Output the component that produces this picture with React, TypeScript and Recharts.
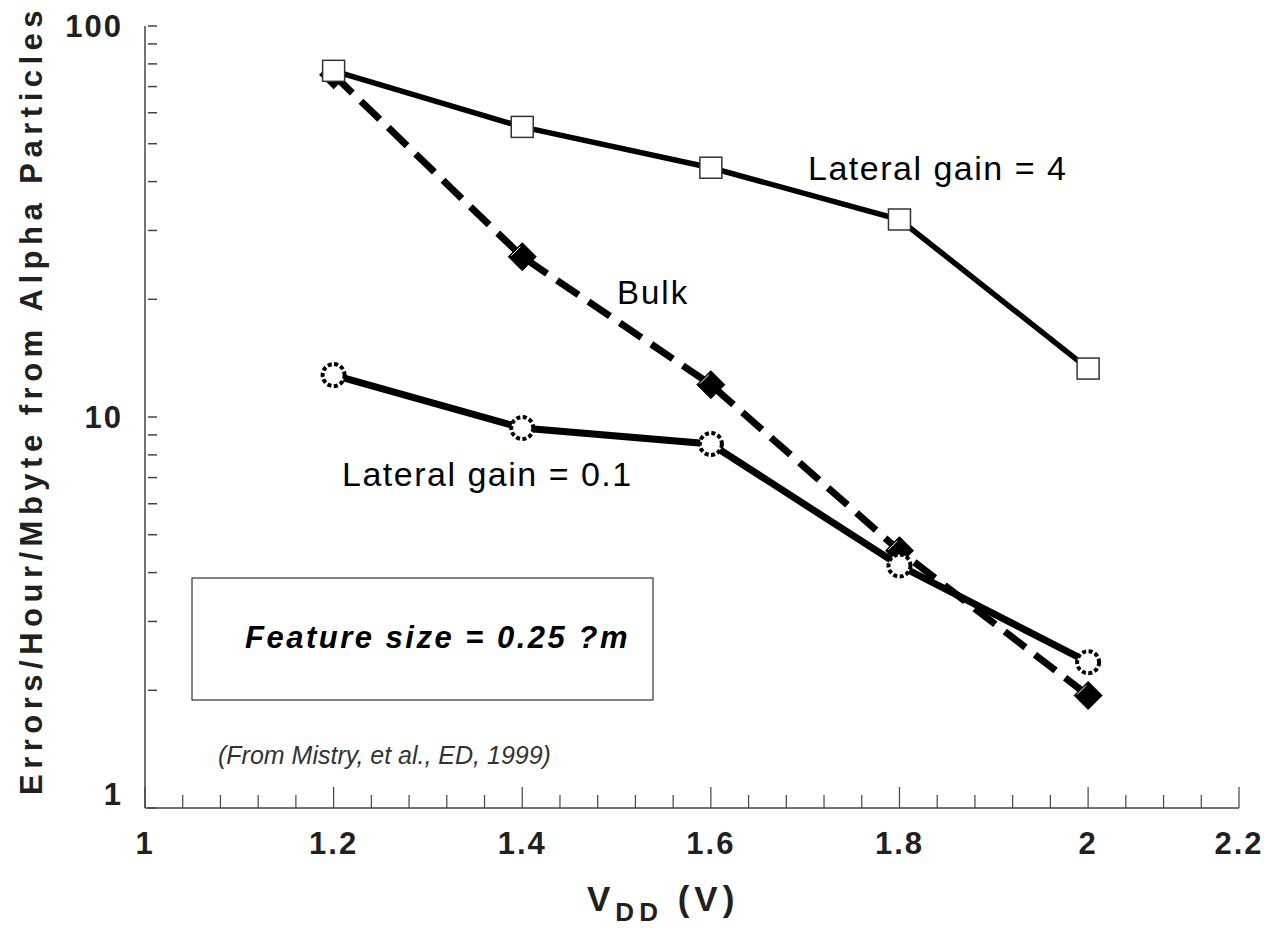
import React from 'react';
import { LineChart, Line, XAxis, YAxis } from 'recharts';

// ---- data ----
const vdd = [1.2, 1.4, 1.6, 1.8, 2.0];
const lateralGain4 = [76.8, 55.2, 43.4, 32.0, 13.3];
const bulk = [75, 25.7, 12.1, 4.55, 1.94];
const lateralGain01 = [12.8, 9.37, 8.53, 4.17, 2.36];

// ---- axes ----
const xDomain = [1, 2.16];
const xMajorTicks = [1, 1.2, 1.4, 1.6, 1.8, 2, 2.16];
const xMajorLabels = ['1', '1.2', '1.4', '1.6', '1.8', '2', '2.2'];
const xMinorTicks = [
  1.04, 1.08, 1.12, 1.16, 1.24, 1.28, 1.32, 1.36, 1.44, 1.48, 1.52, 1.56,
  1.64, 1.68, 1.72, 1.76, 1.84, 1.88, 1.92, 1.96, 2.04, 2.08, 2.12,
];
const yDomain = [1, 100];
const yMajorTicks = [1, 10, 100];
const yMajorLabels = ['1', '10', '100'];
const yMinorTicks = [2, 3, 4, 5, 6, 7, 8, 9, 20, 30, 40, 50, 60, 70, 80, 90];

const data = vdd.map((v, i) => ({
  v,
  g4: lateralGain4[i],
  bulk: bulk[i],
  g01: lateralGain01[i],
}));

const FONT = '"Liberation Sans", Arimo, Arial, Helvetica, sans-serif';
const TEXT = '#231f20';
const AXIS = '#444';

const xTicksAll = [...xMajorTicks, ...xMinorTicks];
const yTicksAll = [...yMajorTicks, ...yMinorTicks];

const tickText = { fontFamily: FONT, fontWeight: 'bold', fontSize: 31, letterSpacing: 2 } as React.CSSProperties;

const BottomTick = (props: any) => {
  const { x, y, payload } = props;
  const idx = xMajorTicks.indexOf(payload.value);
  const major = idx >= 0;
  return (
    <g>
      <line x1={x} x2={x} y1={y} y2={y - (major ? 21 : 13)} stroke={AXIS} strokeWidth={1.2} />
      {major && (
        <text x={x} y={y + 46} textAnchor="middle" style={tickText} fill={TEXT}>
          {xMajorLabels[idx]}
        </text>
      )}
    </g>
  );
};

const TopTick = (props: any) => {
  const { x, y, payload } = props;
  const major = xMajorTicks.indexOf(payload.value) >= 0;
  return <line x1={x} x2={x} y1={y} y2={y + (major ? 21 : 12)} stroke={AXIS} strokeWidth={1.2} />;
};

const LeftTick = (props: any) => {
  const { x, y, payload } = props;
  const idx = yMajorTicks.indexOf(payload.value);
  const major = idx >= 0;
  return (
    <g>
      <line x1={x + 3} x2={x + 12} y1={y} y2={y} stroke={AXIS} strokeWidth={1.5} />
      {major && (
        <text x={x - 22} y={payload.value === 1 ? y - 3 : y + 11} textAnchor="end" style={tickText} fill={TEXT}>
          {yMajorLabels[idx]}
        </text>
      )}
    </g>
  );
};

const RightTick = (props: any) => {
  const { x, y } = props;
  return <line x1={x - 3} x2={x - 12} y1={y} y2={y} stroke={AXIS} strokeWidth={1.5} />;
};

const SquareDot = (props: any) => {
  const { cx, cy } = props;
  if (cx == null || cy == null) return null;
  return <rect x={cx - 11} y={cy - 10.5} width={22} height={21} fill="#fff" stroke="#333" strokeWidth={1.5} />;
};

const DiamondDot = (props: any) => {
  const { cx, cy } = props;
  if (cx == null || cy == null) return null;
  const r = 14;
  return (
    <g>
      <polygon points={`${cx},${cy - r} ${cx + r},${cy} ${cx},${cy + r} ${cx - r},${cy}`} fill="#000" stroke="#000" strokeWidth={1} />
      <polyline points={`${cx - r + 3},${cy - 1} ${cx - 2},${cy - r + 4}`} fill="none" stroke="#fff" strokeWidth={1} />
    </g>
  );
};

const BurstDot = (props: any) => {
  const { cx, cy } = props;
  if (cx == null || cy == null) return null;
  return <circle cx={cx} cy={cy} r={11} fill="#fff" stroke="#000" strokeWidth={4} strokeDasharray="4 2.5" />;
};

export default function App() {
  return (
    <div style={{ position: 'absolute', left: 0, top: 0, width: 1264, height: 929, background: '#fff' }}>
      <LineChart width={1264} height={929} data={data} margin={{ top: 26, right: 25, bottom: 0, left: 0 }}>
        <XAxis
          dataKey="v"
          type="number"
          domain={xDomain}
          allowDataOverflow
          ticks={xTicksAll}
          interval={0}
          tickSize={0}
          tickMargin={0}
          tickLine={false}
          tick={BottomTick}
          height={121}
          axisLine={{ stroke: AXIS, strokeWidth: 1.5 }}
        />
        <XAxis
          xAxisId="top"
          orientation="top"
          dataKey="v"
          type="number"
          domain={xDomain}
          allowDataOverflow
          ticks={xTicksAll}
          interval={0}
          tickSize={0}
          tickMargin={0}
          tickLine={false}
          tick={TopTick}
          height={0}
          axisLine={{ stroke: AXIS, strokeWidth: 1.5 }}
        />
        <YAxis
          type="number"
          scale="log"
          domain={yDomain}
          allowDataOverflow
          ticks={yTicksAll}
          interval={0}
          tickSize={0}
          tickMargin={0}
          tickLine={false}
          tick={LeftTick}
          width={145}
          axisLine={{ stroke: AXIS, strokeWidth: 1.5 }}
        />
        <YAxis
          yAxisId="right"
          orientation="right"
          type="number"
          scale="log"
          domain={yDomain}
          allowDataOverflow
          ticks={yTicksAll}
          interval={0}
          tickSize={0}
          tickMargin={0}
          tickLine={false}
          tick={RightTick}
          width={0}
          axisLine={{ stroke: AXIS, strokeWidth: 1.5 }}
        />
        <Line
          type="linear"
          dataKey="bulk"
          stroke="#000"
          strokeWidth={7}
          strokeDasharray="26 12"
          dot={DiamondDot}
          activeDot={false}
          isAnimationActive={false}
        />
        <Line
          type="linear"
          dataKey="g01"
          stroke="#000"
          strokeWidth={7}
          dot={BurstDot}
          activeDot={false}
          isAnimationActive={false}
        />
        <Line
          type="linear"
          dataKey="g4"
          stroke="#000"
          strokeWidth={5.5}
          dot={SquareDot}
          activeDot={false}
          isAnimationActive={false}
        />
      </LineChart>
      <svg width={1264} height={929} style={{ position: 'absolute', left: 0, top: 0, pointerEvents: 'none' }}>
        <text x={808} y={180} style={{ fontFamily: FONT, fontSize: 34, letterSpacing: 1.5 }} fill="#000">Lateral gain = 4</text>
        <text x={617} y={304} style={{ fontFamily: FONT, fontSize: 33, letterSpacing: 2 }} fill="#000">Bulk</text>
        <text x={342} y={486} style={{ fontFamily: FONT, fontSize: 34, letterSpacing: 1.5 }} fill="#000">Lateral gain = 0.1</text>
        <rect x={192} y={578} width={461} height={122} fill="#fff" stroke="#333" strokeWidth={1.2} />
        <text x={245} y={648} style={{ fontFamily: FONT, fontSize: 31, fontWeight: 'bold', fontStyle: 'italic', letterSpacing: 2.5 }} fill="#000">
          Feature size = 0.25 ?m
        </text>
        <text x={218} y={764} style={{ fontFamily: FONT, fontSize: 25, fontStyle: 'italic' }} fill="#333">
          (From Mistry, et al., ED, 1999)
        </text>
        <text
          x={42}
          y={795}
          transform="rotate(-90, 42, 795)"
          textAnchor="start"
          style={{ fontFamily: FONT, fontSize: 31, fontWeight: 'bold', letterSpacing: 5.5 }}
          fill={TEXT}
        >
          Errors/Hour/Mbyte from  Alpha Particles
        </text>
        <text x={587} y={911} style={{ fontFamily: FONT, fontSize: 35, fontWeight: 'bold', letterSpacing: 5 }} fill={TEXT}>
          V<tspan style={{ fontSize: 26 }} dy={10}>DD</tspan>
          <tspan dy={-10}> (V)</tspan>
        </text>
      </svg>
    </div>
  );
}
